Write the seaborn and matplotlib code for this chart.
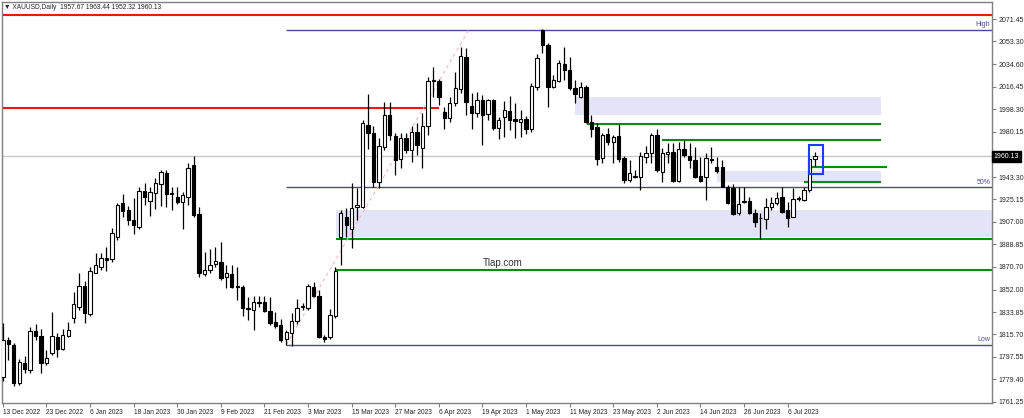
import numpy as np
import matplotlib
matplotlib.use("Agg")
import matplotlib.pyplot as plt
from matplotlib.patches import Rectangle
import seaborn as sns

# XAUUSD daily bars, 13 Dec 2022 .. 13 Jul 2023
title = "\u25bc XAUUSD,Daily  1957.67 1963.44 1952.32 1960.13"
date_labels = ["13 Dec 2022", "23 Dec 2022", "6 Jan 2023", "18 Jan 2023", "30 Jan 2023",
               "9 Feb 2023", "21 Feb 2023", "3 Mar 2023", "15 Mar 2023", "27 Mar 2023",
               "6 Apr 2023", "19 Apr 2023", "1 May 2023", "11 May 2023", "23 May 2023",
               "2 Jun 2023", "14 Jun 2023", "26 Jun 2023", "6 Jul 2023"]
bars_per_label = 8

opens = [1781.0, 1811.2, 1807.2, 1776.7, 1792.3, 1787.0, 1818.5, 1814.5, 1792.3, 1800.9,
         1814.0, 1804.0, 1814.8, 1828.8, 1838.3, 1855.0, 1832.1, 1865.8, 1870.7, 1878.0,
         1876.6, 1895.0, 1922.0, 1916.6, 1908.5, 1903.1, 1932.3, 1924.2, 1930.7, 1937.7,
         1946.9, 1930.1, 1927.4, 1922.8, 1927.4, 1953.1, 1913.1, 1864.7, 1868.0, 1872.9,
         1874.7, 1862.0, 1864.8, 1855.0, 1854.0, 1836.9, 1835.6, 1841.0, 1842.3, 1835.0,
         1826.1, 1823.4, 1811.8, 1817.2, 1826.9, 1837.7, 1836.9, 1854.5, 1847.2, 1813.4,
         1813.9, 1830.7, 1895.0, 1911.2, 1900.9, 1919.3, 1919.3, 1985.5, 1978.8, 1939.6,
         1967.9, 1993.6, 1976.6, 1957.7, 1974.7, 1965.3, 1980.1, 1966.6, 1984.7, 2021.5,
         2021.5, 1996.3, 1990.9, 2003.6, 2014.4, 2040.9, 2000.9, 1995.0, 2005.8, 1994.4,
         2005.8, 1982.8, 1992.3, 1997.1, 1990.1, 1988.2, 1990.1, 1982.0, 2016.6, 2062.5,
         2050.4, 2016.6, 2021.4, 2035.0, 2030.1, 2015.2, 2008.5, 2016.6, 1988.2, 1983.6,
         1958.5, 1978.2, 1972.0, 1976.6, 1958.5, 1940.9, 1944.2, 1943.7, 1959.9, 1962.6,
         1977.4, 1947.7, 1962.0, 1963.9, 1940.4, 1965.8, 1960.4, 1957.2, 1944.2, 1943.7,
         1957.7, 1951.2, 1951.8, 1935.5, 1934.2, 1914.5, 1923.1, 1924.2, 1914.5, 1910.5,
         1909.1, 1918.8, 1922.0, 1926.9, 1916.6, 1911.2, 1926.1, 1924.7, 1932.8, 1957.67]
highs = [1824.8, 1814.0, 1808.5, 1795.6, 1798.5, 1821.5, 1824.2, 1820.2, 1803.1, 1833.7,
         1817.2, 1820.2, 1826.1, 1850.4, 1865.3, 1859.4, 1870.7, 1882.0, 1881.5, 1886.9,
         1901.8, 1922.6, 1929.6, 1919.9, 1926.1, 1935.5, 1938.2, 1935.5, 1942.8, 1949.1,
         1949.1, 1935.5, 1935.0, 1931.5, 1955.0, 1960.4, 1918.8, 1882.8, 1884.8, 1886.4,
         1891.0, 1872.0, 1872.0, 1870.7, 1855.8, 1846.4, 1846.9, 1847.0, 1846.9, 1846.4,
         1834.2, 1828.0, 1819.4, 1833.4, 1844.2, 1841.0, 1856.6, 1858.5, 1851.8, 1815.3,
         1836.1, 1870.7, 1916.6, 1918.0, 1938.2, 1934.2, 1989.6, 2010.6, 1984.7, 1974.7,
         2004.4, 2004.4, 1978.8, 1978.8, 1978.8, 1984.7, 1986.9, 1995.0, 2024.7, 2032.3,
         2022.5, 1999.8, 2008.0, 2028.8, 2049.0, 2047.7, 2011.7, 2012.5, 2009.8, 2006.3,
         2006.3, 1992.3, 2005.2, 2009.0, 2003.1, 1997.7, 1992.8, 2019.8, 2042.8, 2063.1,
         2052.3, 2026.0, 2038.2, 2049.0, 2040.9, 2022.0, 2020.6, 2017.9, 1993.6, 1986.9,
         1978.8, 1982.8, 1977.4, 1986.3, 1960.4, 1957.2, 1949.0, 1963.9, 1968.5, 1978.8,
         1982.0, 1966.6, 1970.7, 1970.7, 1972.0, 1973.4, 1971.2, 1967.9, 1959.9, 1962.6,
         1967.4, 1959.9, 1957.2, 1936.9, 1937.7, 1935.0, 1935.0, 1926.9, 1917.2, 1913.9,
         1926.1, 1927.4, 1931.5, 1935.0, 1923.4, 1934.2, 1928.0, 1935.5, 1957.7, 1963.44]
lows = [1778.0, 1795.0, 1774.0, 1774.5, 1784.2, 1784.8, 1811.2, 1784.8, 1791.0, 1799.0,
        1797.2, 1803.1, 1813.9, 1824.8, 1835.6, 1825.3, 1830.7, 1865.3, 1868.0, 1867.5,
        1874.7, 1892.3, 1911.2, 1904.5, 1897.2, 1901.0, 1920.7, 1911.8, 1917.2, 1919.9,
        1918.8, 1916.6, 1921.2, 1901.0, 1920.7, 1911.2, 1862.6, 1863.1, 1865.3, 1870.2,
        1859.9, 1853.1, 1853.1, 1843.7, 1830.7, 1827.5, 1819.4, 1838.0, 1834.2, 1823.4,
        1821.2, 1809.9, 1807.2, 1806.0, 1824.2, 1835.6, 1835.6, 1846.4, 1812.6, 1809.4,
        1811.8, 1828.8, 1872.0, 1895.0, 1885.5, 1908.5, 1918.0, 1965.8, 1935.5, 1934.2,
        1965.3, 1973.4, 1945.0, 1950.4, 1962.6, 1955.8, 1961.2, 1950.4, 1977.4, 2008.5,
        2001.7, 1982.0, 1988.2, 2000.9, 2011.2, 1993.6, 1982.0, 1992.3, 1969.3, 1989.6,
        1981.5, 1973.9, 1976.1, 1981.5, 1974.7, 1975.5, 1978.2, 1980.1, 2013.9, 2043.6,
        1999.8, 2015.2, 2020.6, 2022.0, 2013.9, 2003.1, 2007.1, 1986.9, 1976.1, 1953.1,
        1954.5, 1969.3, 1955.0, 1955.8, 1938.8, 1939.6, 1942.3, 1932.8, 1954.5, 1954.5,
        1947.7, 1939.6, 1954.5, 1939.6, 1939.6, 1959.9, 1950.4, 1942.3, 1939.6, 1924.7,
        1954.5, 1946.9, 1935.0, 1921.2, 1912.6, 1912.6, 1922.0, 1913.4, 1903.1, 1893.0,
        1901.2, 1916.6, 1921.0, 1914.0, 1903.1, 1910.7, 1924.2, 1924.0, 1931.5, 1952.32]
closes = [1811.2, 1807.7, 1776.7, 1793.7, 1787.7, 1818.5, 1814.8, 1792.3, 1796.4, 1814.5,
          1804.0, 1815.3, 1819.4, 1840.2, 1855.0, 1832.9, 1867.2, 1872.0, 1878.0, 1876.1,
          1897.7, 1920.7, 1915.8, 1908.5, 1904.5, 1932.3, 1927.4, 1931.5, 1938.2, 1947.2,
          1929.6, 1929.2, 1922.8, 1928.8, 1950.4, 1912.6, 1865.8, 1868.0, 1872.0, 1875.5,
          1861.2, 1865.3, 1854.0, 1854.0, 1836.9, 1836.1, 1842.3, 1842.3, 1835.0, 1824.8,
          1822.6, 1811.2, 1817.5, 1826.9, 1836.9, 1838.8, 1855.0, 1847.2, 1813.4, 1812.3,
          1831.5, 1867.5, 1914.5, 1904.5, 1918.0, 1920.7, 1986.9, 1979.3, 1939.6, 1968.5,
          1993.6, 1977.4, 1957.2, 1974.7, 1965.3, 1980.1, 1969.3, 1984.7, 2021.2, 2022.2,
          2008.0, 1990.9, 2003.6, 2015.2, 2041.5, 2004.4, 1995.5, 2005.8, 1993.6, 2005.8,
          1982.8, 1989.6, 1997.7, 1989.6, 1988.8, 1990.1, 1982.0, 2017.1, 2039.6, 2050.4,
          2016.6, 2022.0, 2035.5, 2030.1, 2015.2, 2010.6, 2016.6, 1988.2, 1982.0, 1957.7,
          1977.4, 1972.0, 1975.5, 1957.7, 1940.9, 1946.9, 1943.7, 1960.4, 1963.1, 1977.4,
          1949.0, 1962.6, 1963.9, 1940.4, 1965.8, 1961.2, 1957.2, 1943.7, 1940.4, 1958.5,
          1957.2, 1948.5, 1935.5, 1922.0, 1913.4, 1921.5, 1924.2, 1914.5, 1907.2, 1909.8,
          1919.3, 1922.0, 1926.1, 1915.3, 1909.9, 1925.3, 1925.3, 1932.8, 1957.67, 1960.13]

price_ticks = [2071.45, 2053.30, 2034.60, 2016.45, 1998.30, 1980.15, 1943.30, 1925.15,
               1907.00, 1888.85, 1870.70, 1852.00, 1833.85, 1815.70, 1797.55, 1779.40, 1761.25]

# drawn objects: horizontal levels, zones, fibo
red_prices = [2074.4, 1999.1]
red_end = [190, 80.0]
green_prices = [1892.9, 1867.8, 1986.3, 1973.6, 1951.7, 1939.3]
green_start = [61.1, 61.1, 107.1, 121.0, 148.3, 147.0]
green_end = [190, 190, 161.1, 161.1, 162.2, 161.1]
zone_tops = [2008.5, 1948.2, 1916.6]
zone_bottoms = [1993.6, 1939.3, 1894.5]
zone_start = [105.0, 131.0, 61.1]
zone_end = [161.1, 161.1, 190]
fib_low, fib_high = 1807.2, 2062.8
fib_bars = [52, 85.5]
fib_levels = [0.0, 0.5, 1.0]
fib_names = ["High", "50%", "Low"]
box_bars = [148.0, 150.5]
box_prices = [1945.8, 1969.1]
watermark = "Tlap.com"
watermark_at = (91.8, 1873.7)

sns.set_theme(style="white")
plt.rcParams["font.family"] = ["Liberation Sans", "DejaVu Sans"]

fig = plt.figure(figsize=(10.24, 4.18), dpi=100)
ax = fig.add_axes([1.5 / 1024, 15.3 / 418, 990.5 / 1024, 401 / 418])
ax.set_facecolor("white")

o = np.array(opens)
h = np.array(highs)
l = np.array(lows)
c = np.array(closes)
x = np.arange(len(c))
up = c >= o
bottom = np.minimum(o, c)
height = np.maximum(np.abs(c - o), 0.5)

# zones and levels under the candles
for t, b, s, e in zip(zone_tops, zone_bottoms, zone_start, zone_end):
    ax.fill_between([s, e], b, t, color="#E4E4F8", lw=0, zorder=0)
ax.axhline(c[-1], color="#C8C8C8", lw=1, zorder=1)
ax.hlines(red_prices, -1, red_end, color="#F01414", lw=1.5, zorder=2)
ax.hlines(green_prices, green_start, green_end, color="#0E8A0E", lw=1.5, zorder=2)

fib_prices = [fib_high - f * (fib_high - fib_low) for f in fib_levels]
ax.hlines(fib_prices, fib_bars[0], 190, color="#4A4A9C", lw=1, zorder=2)
ax.plot(fib_bars, [fib_low, fib_high], color="#F4B6C6", lw=0.8, ls=(0, (3, 3)), zorder=2)
for p, name in zip(fib_prices, fib_names):
    ax.text(181.2, p + 1.2, name, ha="right", va="bottom", fontsize=5, color="#4A4A9C")

# candles
ax.vlines(x, l, h, color="black", lw=0.9, zorder=3)
ax.bar(x[up], height[up], bottom=bottom[up], width=0.62, color="white",
       edgecolor="black", lw=0.8, zorder=4)
ax.bar(x[~up], height[~up], bottom=bottom[~up], width=0.62, color="black",
       edgecolor="black", lw=0.8, zorder=4)

ax.add_patch(Rectangle((box_bars[0], box_prices[0]), box_bars[1] - box_bars[0],
                       box_prices[1] - box_prices[0], fill=False,
                       edgecolor="#1E3CFF", lw=1.5, zorder=5))

ax.text(watermark_at[0], watermark_at[1], watermark, ha="center", va="center",
        fontsize=7, color="#333333", zorder=5)

ax.set_xlim(-0.25, 181.5)
ax.set_ylim(1760.4, 2085.5)

ax.set_xticks(np.arange(len(date_labels)) * bars_per_label)
ax.set_xticklabels(date_labels, ha="left", fontsize=4.8)
ax.yaxis.tick_right()
ax.set_yticks(price_ticks)
ax.set_yticklabels([f"{p:.2f}" for p in price_ticks], fontsize=5)
ax.tick_params(axis="both", which="both", direction="out", length=3, width=0.8,
               color="#808080", pad=1.5, bottom=True, right=True, left=False)
for s in ax.spines.values():
    s.set_color("#808080")
    s.set_linewidth(1)
ax.grid(False)

ax.text(1.0015, c[-1], f"{c[-1]:.2f}", transform=ax.get_yaxis_transform(),
        ha="left", va="center", fontsize=5, color="white", clip_on=False,
        bbox=dict(boxstyle="square,pad=0.25", fc="black", ec="black"))

fig.text(4 / 1024, 1 - 7.5 / 418, title, fontsize=4.8, va="center", ha="left")

fig.savefig("out.png", dpi=100)
